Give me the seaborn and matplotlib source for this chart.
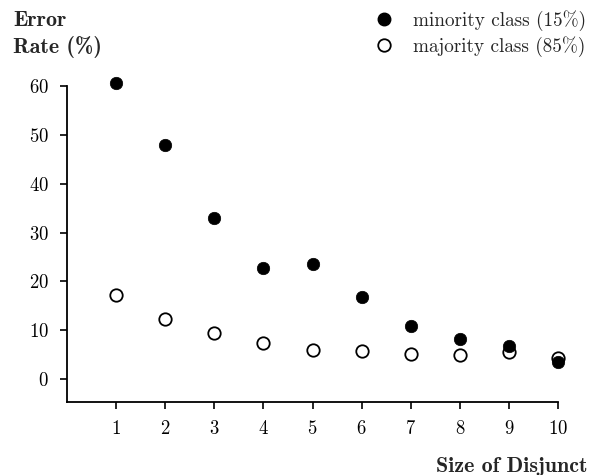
import pandas as pd
import seaborn as sns
from matplotlib import pyplot as plt
from matplotlib.lines import Line2D

# data
disjunct_size = [1, 2, 3, 4, 5, 6, 7, 8, 9, 10]
minority_err = [60.6, 48.0, 33.0, 22.7, 23.6, 16.8, 10.9, 8.2, 6.8, 3.5]
majority_err = [17.2, 12.3, 9.4, 7.4, 5.9, 5.7, 5.1, 4.9, 5.5, 4.3]
minority_label = "minority class (15%)"
majority_label = "majority class (85%)"

df = pd.DataFrame({"size": disjunct_size * 2,
                   "err": minority_err + majority_err,
                   "cls": [minority_label] * 10 + [majority_label] * 10})

sns.set_style("ticks")
plt.rcParams["font.family"] = ["cmr10", "DejaVu Serif"]
plt.rcParams["axes.formatter.use_mathtext"] = True

fig = plt.figure(figsize=(5.89, 4.75), dpi=100)
ax = fig.add_axes([67 / 589, 73 / 475, 491 / 589, 316 / 475])

maj = df[df["cls"] == majority_label]
mino = df[df["cls"] == minority_label]
sns.scatterplot(data=maj, x="size", y="err", ax=ax, s=80, facecolor="white",
                edgecolor="black", linewidth=1.3, clip_on=False, zorder=3)
sns.scatterplot(data=mino, x="size", y="err", ax=ax, s=80, color="black",
                edgecolor="black", linewidth=0.5, clip_on=False, zorder=4)

ax.set_xlim(0, 10)
ax.set_ylim(-4.7, 60)
ax.set_xticks(disjunct_size)
ax.set_yticks([0, 10, 20, 30, 40, 50, 60])
ax.tick_params(axis="both", labelsize=13.5, length=5, width=1.2, direction="out", colors="black")
ax.tick_params(axis="x", pad=8)
ax.tick_params(axis="y", pad=8)
for side in ["top", "right"]:
    ax.spines[side].set_visible(False)
for side in ["left", "bottom"]:
    ax.spines[side].set_linewidth(1.3)
    ax.spines[side].set_color("black")
ax.set_xlabel("")
ax.set_ylabel("")

bold = ["cmb10", "DejaVu Serif"]
fig.text(13 / 589, 1 - 11 / 475, "Error", family=bold, fontsize=15.8, va="top", ha="left")
fig.text(13 / 589, 1 - 36 / 475, "Rate (%)", family=bold, fontsize=15.8, va="top", ha="left")
fig.text(587 / 589, 1 - 467 / 475, "Size of Disjunct", family=bold,
         fontsize=15.8, va="center", ha="right")

handles = [
    Line2D([], [], ls="", marker="o", markersize=9, markerfacecolor="black", markeredgecolor="black"),
    Line2D([], [], ls="", marker="o", markersize=9, markerfacecolor="white", markeredgecolor="black",
           markeredgewidth=1.3),
]
fig.legend(handles, [minority_label, majority_label], loc="upper right",
           bbox_to_anchor=(603 / 589, 1 + 7 / 475), frameon=False, fontsize=13.8,
           handletextpad=1.0, labelspacing=0.25, handlelength=1.0)

fig.savefig("out.png", dpi=100)
